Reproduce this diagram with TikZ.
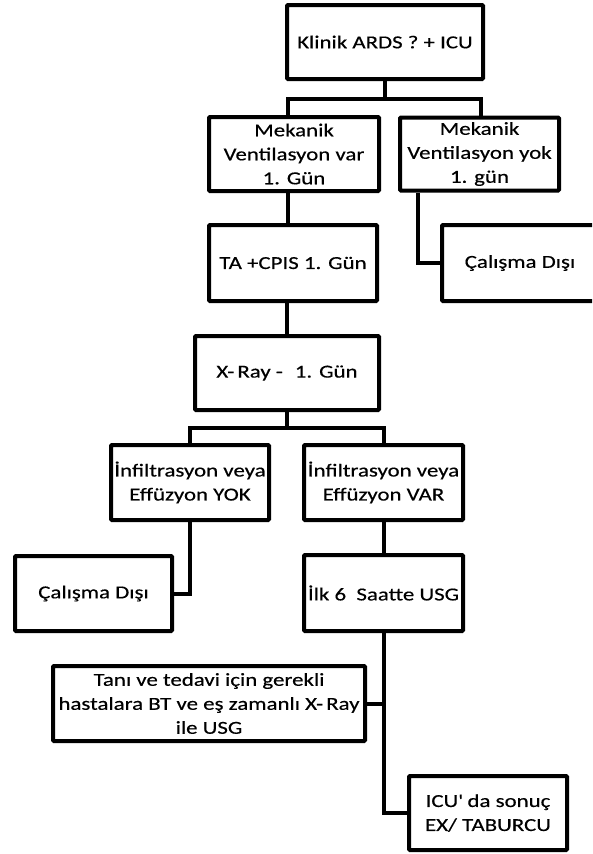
\documentclass[tikz,border=0pt]{standalone}
\usepackage{fontspec}
\setmainfont{Carlito}[FakeStretch=1.25,FakeBold=0.4]
\begin{document}
\begin{tikzpicture}[x=1pt,y=-1pt,line width=4pt,
    box/.style={draw,rectangle,rounded corners=1pt,align=center,inner sep=0pt,
      minimum width=158pt,minimum height=75pt,font=\fontsize{18.3}{24}\selectfont}]
  \useasboundingbox (0,0) rectangle (592,854);
  \clip (0,0) rectangle (592,854);

  \node[box,minimum width=196pt,minimum height=74pt] (ards) at (385,42) {Klinik ARDS ? + ICU};
  \node[box,minimum width=170pt,minimum height=74pt] (mvvar) at (294,154) {Mekanik\\Ventilasyon var\\1. Gün};
  \node[box,minimum width=159pt,minimum height=73pt] (mvyok) at (479.5,154) {Mekanik\\Ventilasyon yok\\1. gün};
  \node[box,minimum width=168pt,minimum height=76pt] (ta) at (293,263) {TA +CPIS 1. Gün};
  \node[box,minimum width=156pt,minimum height=76pt] (dis1) at (520,263) {Çalışma Dışı};
  \node[box,minimum width=184pt,minimum height=74pt] (xray) at (287,373) {X-\,Ray -\hspace{12pt}1. Gün};
  \node[box] (yok) at (190,482.5) {İnfiltrasyon veya\\Effüzyon YOK};
  \node[box,minimum width=159pt] (var) at (383.5,482.5) {İnfiltrasyon veya\\Effüzyon VAR};
  \node[box,minimum width=157pt] (dis2) at (93.5,593.5) {Çalışma Dışı};
  \node[box,minimum width=159pt,minimum height=76pt] (ilk) at (383.5,593) {İlk 6\ \ Saatte USG};
  \node[box,minimum width=312pt] (tani) at (209,703.5) {Tanı ve tedavi için gerekli\\hastalara BT ve eş zamanlı X-\,Ray\\ile USG};
  \node[box,minimum height=74pt] (icu) at (488,813) {ICU\textquotesingle\ da sonuç\\EX/ TABURCU};

  \coordinate (split1) at (385,99);
  \coordinate (split2) at (287,428);

  \draw (ards.south) -- (split1);
  \draw ([xshift=-6pt]mvvar.north) |- (split1) -| ([xshift=1.5pt]mvyok.north);
  \draw ([xshift=-6pt]mvvar.south) -- ([xshift=-6pt]mvvar.south |- ta.north);
  \draw ([xshift=-62pt]mvyok.south) |- (dis1.west);
  \draw (xray.north |- ta.south) -- (xray.north);
  \draw (xray.south) -- (split2);
  \draw (yok.north) |- (split2) -| (var.north);
  \draw (yok.south) |- (dis2.east);
  \draw (var.south) -- (ilk.north);
  \draw (ilk.south) |- (icu.west);
  \draw (tani.east) -- (tani.east -| ilk.south);
\end{tikzpicture}
\end{document}
